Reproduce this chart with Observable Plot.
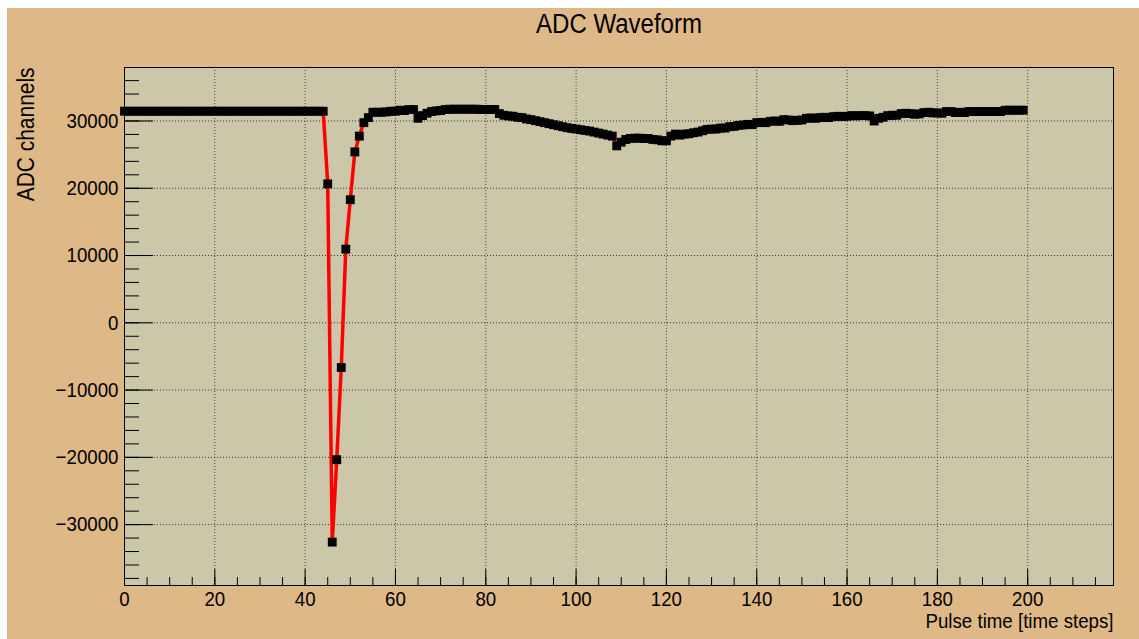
<!DOCTYPE html>
<html>
<head>
<meta charset="utf-8">
<script src="https://cdn.jsdelivr.net/npm/d3@7"></script>
<script src="https://cdn.jsdelivr.net/npm/@observablehq/plot@0.6"></script>
<style>
  html, body { margin: 0; padding: 0; background: #ffffff; }
  #pad { position: absolute; left: 7px; top: 8px; width: 1132px; height: 631px; background: #deb887; }
  #chart { position: absolute; left: 0; top: 0; }
</style>
</head>
<body>
<div id="pad"></div>
<div id="chart"></div>
<script>
// ADC samples, one per time step (0..199)
const adc = [
  31450, 31450, 31450, 31450, 31450, 31450, 31450, 31450, 31450, 31450,
  31450, 31450, 31450, 31450, 31450, 31450, 31450, 31450, 31450, 31450,
  31450, 31450, 31450, 31450, 31450, 31450, 31450, 31450, 31450, 31450,
  31450, 31450, 31450, 31450, 31450, 31450, 31450, 31450, 31450, 31450,
  31450, 31450, 31450, 31450, 31450, 20650, -32600, -20350, -6650, 10950,
  18300, 25400, 27750, 29750, 30500, 31300, 31300, 31300, 31350, 31450,
  31450, 31600, 31550, 31700, 31700, 30400, 30800, 31150, 31400, 31500,
  31550, 31700, 31750, 31750, 31750, 31750, 31750, 31750, 31750, 31700,
  31700, 31700, 31700, 31100, 30850, 30750, 30700, 30550, 30500, 30300,
  30200, 30050, 29900, 29750, 29600, 29450, 29300, 29150, 29000, 28900,
  28800, 28700, 28600, 28500, 28350, 28200, 28050, 27900, 27750, 26300,
  26850, 27250, 27400, 27450, 27450, 27400, 27400, 27250, 27200, 27050,
  27050, 27750, 28050, 27900, 28050, 28100, 28250, 28350, 28550, 28750,
  28800, 28800, 28950, 28950, 29150, 29200, 29350, 29400, 29500, 29450,
  29750, 29800, 29750, 29950, 30000, 29950, 30200, 30150, 30050, 30100,
  30150, 30400, 30450, 30400, 30500, 30550, 30500, 30650, 30700, 30650,
  30700, 30800, 30750, 30800, 30800, 30750, 30000, 30400, 30550, 30800,
  30850, 30850, 31100, 31150, 31100, 31000, 31050, 31250, 31300, 31200,
  31200, 31150, 31400, 31400, 31250, 31300, 31250, 31400, 31400, 31400,
  31400, 31400, 31400, 31400, 31400, 31600, 31600, 31600, 31600, 31600
];

// Axis ticks
const xTicks = [0, 20, 40, 60, 80, 100, 120, 140, 160, 180, 200];
const yTicks = [-30000, -20000, -10000, 0, 10000, 20000, 30000];
const xMinor = d3.range(5, 219, 5);
const yMinor = d3.range(-38000, 37951, 2000);

const titleText = "ADC Waveform";
const xLabel = "Pulse time [time steps]";
const yLabel = "ADC channels";

const samples = adc.map((v, i) => ({step: i, value: v}));

const W = 1139, H = 639;
const mL = 124, mR = 26, mT = 67, mB = 54;
const fw = W - mL - mR, fh = H - mT - mB;
const font = "'Liberation Sans', Arial, Helvetica, sans-serif";
const fmt = d => (d < 0 ? "\u2212" + Math.abs(d) : String(d));
const narrow = 0.89; // horizontal squeeze applied to every label

const chart = Plot.plot({
  width: W,
  height: H,
  marginLeft: mL,
  marginRight: mR,
  marginTop: mT,
  marginBottom: mB,
  style: {background: "transparent", fontFamily: font, color: "#000"},
  x: {domain: [0, 219], axis: null},
  y: {domain: [-39050, 37950], axis: null},
  marks: [
    Plot.frame({fill: "#cdc7aa", stroke: null}),
    Plot.gridX(xTicks.slice(1), {stroke: "#444", strokeOpacity: 1, strokeDasharray: "1,2"}),
    Plot.gridY(yTicks, {stroke: "#333", strokeOpacity: 1, strokeDasharray: "1,2"}),
    // minor and major ticks drawn inward from the frame
    Plot.tickX(xMinor, {x: d => d, insetTop: fh - 8, stroke: "#000"}),
    Plot.tickX(xTicks, {x: d => d, insetTop: fh - 16, stroke: "#000"}),
    Plot.tickY(yMinor, {y: d => d, insetRight: fw - 15, stroke: "#000"}),
    Plot.tickY(yTicks, {y: d => d, insetRight: fw - 29, stroke: "#000"}),
    Plot.line(samples, {x: "step", y: "value", stroke: "#ff0000", strokeWidth: 3.5}),
    Plot.dot(samples, {x: "step", y: "value", symbol: "square", r: 5, fill: "#000", stroke: null}),
    Plot.frame({stroke: "#000", strokeWidth: 1}),
    Plot.axisX({ticks: xTicks, tickSize: 0, tickPadding: 6, fontSize: 21, label: null, tickFormat: fmt}),
    Plot.axisY({ticks: yTicks, tickSize: 0, tickPadding: 6, fontSize: 21, label: null, tickFormat: fmt}),
    Plot.text([titleText], {text: d => d, frameAnchor: "top", lineAnchor: "middle", dy: -43, fontSize: 27, fill: "#000"}),
    Plot.text([xLabel], {text: d => d, frameAnchor: "bottom-right", lineAnchor: "middle", textAnchor: "end", dy: 36, fontSize: 21, fill: "#000"}),
    Plot.text([yLabel], {text: d => d, frameAnchor: "top-left", lineAnchor: "middle", textAnchor: "end", rotate: -90, dx: -98, fontSize: 23.5, fill: "#000"})
  ]
});

document.getElementById("chart").appendChild(chart);

// Squeeze each label along its baseline so glyphs read tall and narrow
for (const el of chart.querySelectorAll("text")) {
  const len = el.getComputedTextLength();
  if (len > 0) {
    el.setAttribute("textLength", (len * narrow).toFixed(2));
    el.setAttribute("lengthAdjust", "spacingAndGlyphs");
  }
}
</script>
</body>
</html>
